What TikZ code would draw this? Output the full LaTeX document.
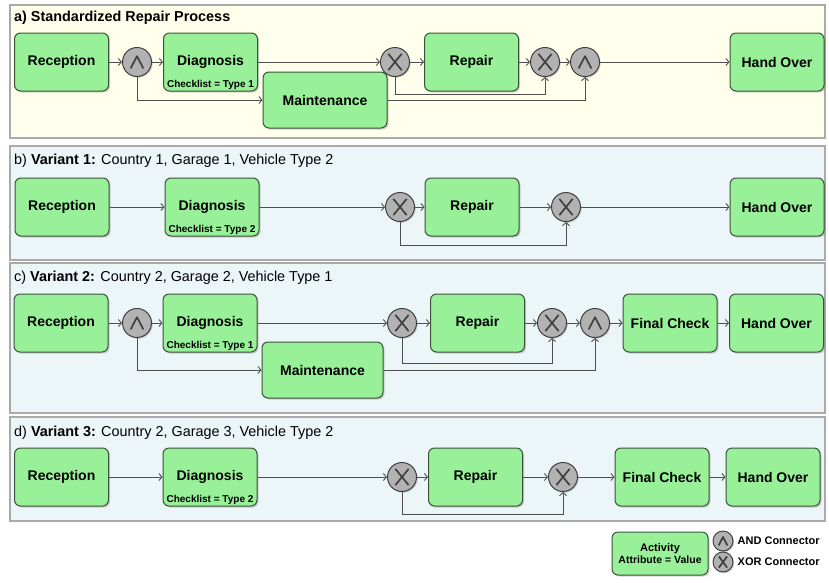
\documentclass[tikz,border=0pt]{standalone}
\usepackage{fontspec}
\setmainfont{Liberation Sans}
\usetikzlibrary{arrows.meta,positioning,shadows,calc}

\definecolor{actgreen}{RGB}{152,240,152}
\definecolor{actline}{RGB}{58,82,58}
\definecolor{gategray}{RGB}{178,178,178}
\definecolor{flowgray}{RGB}{78,78,78}
\definecolor{panelcream}{RGB}{255,255,236}
\definecolor{panelblue}{RGB}{236,245,247}
\definecolor{panelline}{RGB}{170,170,170}

\tikzset{
  act/.style={draw=actline, fill=actgreen, line width=1pt, rounded corners=6pt,
    minimum width=94pt, minimum height=58pt, inner sep=1pt,
    font=\fontsize{14}{16}\selectfont\bfseries,
    drop shadow={shadow xshift=1.5pt, shadow yshift=-1.5pt, opacity=0.35}},
  attr/.style={inner sep=1pt, font=\fontsize{10}{11}\selectfont\bfseries},
  gate/.style={circle, draw=black!75, fill=gategray, line width=1pt,
    minimum size=29pt, inner sep=0pt,
    drop shadow={shadow xshift=1.2pt, shadow yshift=-1.2pt, opacity=0.35}},
  andgate/.style={gate, path picture={
    \draw[line width=1.7pt, line join=round]
      ($(path picture bounding box.center)!0.44!(path picture bounding box.south west)$)
      -- ($(path picture bounding box.center)!0.4!(path picture bounding box.north)$)
      -- ($(path picture bounding box.center)!0.44!(path picture bounding box.south east)$);}},
  xorgate/.style={gate, path picture={
    \draw[line width=1.7pt]
      ($(path picture bounding box.center)!0.56!(path picture bounding box.south west)+(1.5pt,0)$)
      -- ($(path picture bounding box.center)!0.56!(path picture bounding box.north east)+(-1.5pt,0)$)
      ($(path picture bounding box.center)!0.56!(path picture bounding box.north west)+(1.5pt,0)$)
      -- ($(path picture bounding box.center)!0.56!(path picture bounding box.south east)+(-1.5pt,0)$);}},
  flow/.style={draw=flowgray, line width=0.9pt, -{Straight Barb[length=3pt,width=7pt]}},
  panel/.style={draw=panelline, line width=1.2pt},
  title/.style={anchor=west, inner sep=0pt, font=\fontsize{14.4}{16}\selectfont},
  legend/.style={anchor=west, inner sep=0pt, font=\fontsize{11}{13}\selectfont\bfseries}
}

\begin{document}
\begin{tikzpicture}[x=1pt, y=-1pt]
        \useasboundingbox (0,0) rectangle (829,582);

        % panels
        \draw[panel, fill=panelcream] (10,5) rectangle (825,138);
        \draw[panel, fill=panelblue] (10,146) rectangle (825,260);
        \draw[panel, fill=panelblue] (10,263) rectangle (825,413);
        \draw[panel, fill=panelblue] (10,417) rectangle (825,521);

        \node[title] (aTitle) at (14,18) {\textbf{a) Standardized Repair Process}};
        \node[title] (bTitle) at (14,161) {b) \textbf{Variant 1:} Country 1, Garage 1, Vehicle Type 2};
        \node[title] (cTitle) at (14,278) {c) \textbf{Variant 2:} Country 2, Garage 2, Vehicle Type 1};
        \node[title] (dTitle) at (14,433) {d) \textbf{Variant 3:} Country 2, Garage 3, Vehicle Type 2};

        % a) standardized process
        \node[act] (aRec) at (61.5,62) {Reception};
        \node[andgate] (aAnd1) at (137,62) {};
        \node[act] (aDia) at (210.5,62) {Diagnosis};
        \node[attr, above=1pt of aDia.south] (aDiaAt) {Checklist = Type 1};
        \node[act, minimum width=124pt, minimum height=56pt] (aMnt) at (325,100) {Maintenance};
        \node[xorgate] (aXor1) at (395,62) {};
        \node[act] (aRep) at (471.5,62) {Repair};
        \node[xorgate] (aXor2) at (545,62) {};
        \node[andgate] (aAnd2) at (585,62) {};
        \node[act] (aHnd) at (777,62) {Hand Over};

        \draw[flow] (aRec) -- (aAnd1);
        \draw[flow] (aAnd1) -- (aDia);
        \draw[flow] (aAnd1) |- (aMnt);
        \draw[flow] (aDia) -- (aXor1);
        \draw[flow] (aXor1) -- (aRep);
        \draw[flow] (aXor1.south) -- ++(0,17.5) -| (aXor2.south);
        \draw[flow] (aRep) -- (aXor2);
        \draw[flow] (aXor2) -- (aAnd2);
        \draw[flow] (aMnt) -| (aAnd2);
        \draw[flow] (aAnd2) -- (aHnd);

        % b) variant 1
        \node[act] (bRec) at (62,207) {Reception};
        \node[act] (bDia) at (212,207) {Diagnosis};
        \node[attr, above=1pt of bDia.south] (bDiaAt) {Checklist = Type 2};
        \node[xorgate] (bXor1) at (400,207) {};
        \node[act] (bRep) at (472,207) {Repair};
        \node[xorgate] (bXor2) at (566,207) {};
        \node[act] (bHnd) at (777,207) {Hand Over};

        \draw[flow] (bRec) -- (bDia);
        \draw[flow] (bDia) -- (bXor1);
        \draw[flow] (bXor1) -- (bRep);
        \draw[flow] (bXor1.south) -- ++(0,23.5) -| (bXor2.south);
        \draw[flow] (bRep) -- (bXor2);
        \draw[flow] (bXor2) -- (bHnd);

        % c) variant 2
        \node[act] (cRec) at (61,323) {Reception};
        \node[andgate] (cAnd1) at (137,323) {};
        \node[act] (cDia) at (210,323) {Diagnosis};
        \node[attr, above=1pt of cDia.south] (cDiaAt) {Checklist = Type 1};
        \node[act, minimum width=121pt, minimum height=56pt] (cMnt) at (322.5,370) {Maintenance};
        \node[xorgate] (cXor1) at (402,323) {};
        \node[act] (cRep) at (477.5,323) {Repair};
        \node[xorgate] (cXor2) at (552,323) {};
        \node[andgate] (cAnd2) at (595,323) {};
        \node[act] (cFin) at (670,323) {Final Check};
        \node[act] (cHnd) at (776.5,323) {Hand Over};

        \draw[flow] (cRec) -- (cAnd1);
        \draw[flow] (cAnd1) -- (cDia);
        \draw[flow] (cAnd1) |- (cMnt);
        \draw[flow] (cDia) -- (cXor1);
        \draw[flow] (cXor1) -- (cRep);
        \draw[flow] (cXor1.south) -- ++(0,25.5) -| (cXor2.south);
        \draw[flow] (cRep) -- (cXor2);
        \draw[flow] (cXor2) -- (cAnd2);
        \draw[flow] (cMnt) -| (cAnd2);
        \draw[flow] (cAnd2) -- (cFin);
        \draw[flow] (cFin) -- (cHnd);

        % d) variant 3
        \node[act] (dRec) at (61.5,477) {Reception};
        \node[act] (dDia) at (210,477) {Diagnosis};
        \node[attr, above=1pt of dDia.south] (dDiaAt) {Checklist = Type 2};
        \node[xorgate] (dXor1) at (402,477) {};
        \node[act] (dRep) at (475.5,477) {Repair};
        \node[xorgate] (dXor2) at (563,477) {};
        \node[act] (dFin) at (662,477) {Final Check};
        \node[act] (dHnd) at (773,477) {Hand Over};

        \draw[flow] (dRec) -- (dDia);
        \draw[flow] (dDia) -- (dXor1);
        \draw[flow] (dXor1) -- (dRep);
        \draw[flow] (dXor1.south) -- ++(0,22) -| (dXor2.south);
        \draw[flow] (dRep) -- (dXor2);
        \draw[flow] (dXor2) -- (dFin);
        \draw[flow] (dFin) -- (dHnd);

        % legend
        \node[act, minimum width=96pt, minimum height=43pt, align=center,
              font=\fontsize{11}{12}\selectfont\bfseries] (lgAct) at (660,553.5)
              {Activity\\{\fontsize{10.5}{12}\selectfont Attribute = Value}};
        \node[andgate, minimum size=20pt] (lgAnd) at (723,541) {};
        \node[xorgate, minimum size=20pt] (lgXor) at (723,562) {};
        \node[legend, right=4pt of lgAnd] (lgAndTxt) {AND Connector};
        \node[legend, right=4pt of lgXor] (lgXorTxt) {XOR Connector};
\end{tikzpicture}
\end{document}
